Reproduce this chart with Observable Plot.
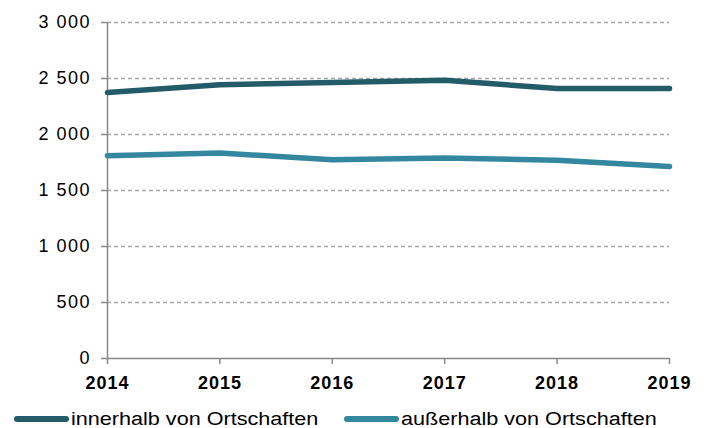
<!DOCTYPE html>
<html>
<head>
<meta charset="utf-8">
<script src="https://cdn.jsdelivr.net/npm/d3@7"></script>
<script src="https://cdn.jsdelivr.net/npm/@observablehq/plot@0.6"></script>
<style>
  html, body { margin: 0; padding: 0; background: #fff; }
  #chart { width: 708px; font-family: "Liberation Sans", Arial, sans-serif; }
  #chart svg text { font-size: 18px; }
  .legend { position: relative; height: 26px; font-size: 18px; color: #000; }
  .legend .item { position: absolute; top: 6px; display: flex; align-items: center; height: 22px; }
  .legend .swatch { display: inline-block; width: 55px; height: 6px; border-radius: 3px; margin-right: 2px; }
  .legend .txt { display: inline-block; transform: scaleX(1.2); transform-origin: left center; white-space: nowrap; }
</style>
</head>
<body>
<div id="chart"></div>
<script>
const years = [2014, 2015, 2016, 2017, 2018, 2019];
const innerhalb = [2375, 2445, 2465, 2485, 2410, 2410];
const ausserhalb = [1810, 1835, 1775, 1790, 1770, 1715];
const seriesNames = ["innerhalb von Ortschaften", "außerhalb von Ortschaften"];
const colors = ["#235b68", "#3388a0"];
const yTicks = [0, 500, 1000, 1500, 2000, 2500, 3000];

const data = [];
years.forEach((y, i) => {
  data.push({year: y, value: innerhalb[i], series: seriesNames[0]});
  data.push({year: y, value: ausserhalb[i], series: seriesNames[1]});
});

const fmt = d3.formatLocale({decimal: ",", thousands: "\u00a0", grouping: [3], currency: ["", ""]}).format(",d");

const plot = Plot.plot({
  width: 708,
  height: 402,
  marginLeft: 107,
  marginRight: 39,
  marginTop: 22,
  marginBottom: 44,
  style: {fontFamily: "'Liberation Sans', Arial, sans-serif", fontSize: "18px", color: "#000", background: "#fff"},
  x: {domain: [2014, 2019], type: "linear", axis: null},
  y: {domain: [0, 3000], axis: null},
  color: {domain: seriesNames, range: colors},
  marks: [
    Plot.ruleY(yTicks.filter(d => d > 0), {stroke: "#a6a6a6", strokeWidth: 1.5, strokeDasharray: "4,3"}),
    Plot.ruleX([2014], {stroke: "#888", strokeWidth: 1.5}),
    Plot.ruleY([0], {stroke: "#888", strokeWidth: 1.5}),
    Plot.axisY({ticks: yTicks, tickSize: 6, tickPadding: 10.5, tickFormat: fmt, stroke: "#888", fill: "#000", strokeWidth: 1.5, label: null, fontSize: 18}),
    Plot.axisX({ticks: years, tickSize: 6, tickPadding: 12, tickFormat: d => String(d), stroke: "#888", fill: "#000", strokeWidth: 1.5, label: null, fontWeight: "bold", fontSize: 18}),
    Plot.lineY(data, {x: "year", y: "value", z: "series", stroke: "series", strokeWidth: 5.5, strokeLinecap: "round", strokeLinejoin: "round"})
  ]
});

const yearLabels = new Set(years.map(String));
plot.querySelectorAll("text").forEach(el => {
  el.style.letterSpacing = yearLabels.has(el.textContent.trim()) ? "1px" : "1.5px";
});

const chart = document.getElementById("chart");
chart.appendChild(plot);

const legend = document.createElement("div");
legend.className = "legend";
const lefts = [14, 344];
seriesNames.forEach((name, i) => {
  const item = document.createElement("div");
  item.className = "item";
  item.style.left = lefts[i] + "px";
  const sw = document.createElement("span");
  sw.className = "swatch";
  sw.style.background = colors[i];
  const label = document.createElement("span");
  label.className = "txt";
  label.textContent = name;
  item.appendChild(sw);
  item.appendChild(label);
  legend.appendChild(item);
});
chart.appendChild(legend);
</script>
</body>
</html>
